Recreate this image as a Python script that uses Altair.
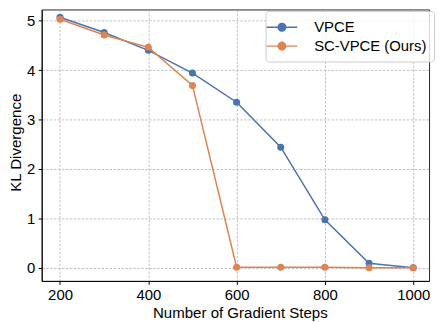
import altair as alt
import pandas as pd

steps = [200, 300, 400, 500, 600, 700, 800, 900, 1000]
vpce = [5.07, 4.76, 4.40, 3.94, 3.35, 2.44, 0.97, 0.09, 0.0]
sc_vpce = [5.03, 4.71, 4.46, 3.69, 0.01, 0.01, 0.012, 0.0, 0.0]
series_names = ["VPCE", "SC-VPCE (Ours)"]
series_colors = ["#4C72B0", "#DD8452"]
x_ticks = [200, 400, 600, 800, 1000]
y_ticks = [0, 1, 2, 3, 4, 5]

rows = []
for s, vals in zip(series_names, [vpce, sc_vpce]):
    for x, v in zip(steps, vals):
        rows.append({"steps": x, "kl": v, "method": s})
df = pd.DataFrame(rows)

FONT = "Liberation Sans"

x_enc = alt.X("steps:Q", scale=alt.Scale(domain=[158.5, 1035.9], nice=False, zero=False),
              axis=alt.Axis(values=x_ticks, title="Number of Gradient Steps", format="d",
                            titleX=200))
y_enc = alt.Y("kl:Q", scale=alt.Scale(domain=[-0.267, 5.227], nice=False, zero=False),
              axis=alt.Axis(values=y_ticks, title="KL Divergence", format="d",
                            titleY=134))
color_enc = alt.Color(
    "method:N",
    scale=alt.Scale(domain=series_names, range=series_colors),
    sort=series_names,
    legend=alt.Legend(
        title=None,
        orient="none",
        legendX=226,
        legendY=1.5,
        symbolType="M-1.82,0H1.82M-0.45,0A0.45,0.45 0 1,0 0.45,0A0.45,0.45 0 1,0 -0.45,0Z",
        symbolSize=289,
        symbolStrokeWidth=1.5,
        symbolOpacity=1,
        labelFontSize=15,
        labelFont=FONT,
        labelColor="#000000",
        labelOffset=23,
        fillColor="rgba(255,255,255,0.8)",
        strokeColor="#cccccc",
        cornerRadius=3,
        padding=7,
        rowPadding=1,
    ),
)

layers = []
for s in series_names:
    base = alt.Chart(df).transform_filter(alt.datum.method == s)
    layers.append(base.mark_line(strokeWidth=1.5).encode(x=x_enc, y=y_enc, color=color_enc))
    layers.append(base.mark_point(filled=True, size=50, opacity=1).encode(x=x_enc, y=y_enc, color=color_enc))

chart = alt.layer(*layers).properties(
    width=391, height=274,
    padding={"left": 0, "top": 0, "right": 0, "bottom": 0},
).configure_view(
    stroke="#262626", strokeWidth=1
).configure_axis(
    labelFont=FONT, titleFont=FONT, labelFontSize=15, titleFontSize=15.2,
    labelColor="#000000", titleColor="#000000", titleFontWeight="normal",
    domainColor="#000000", domainWidth=1, tickColor="#000000", tickSize=3.5, tickWidth=1,
    labelPadding=3.5, titlePadding=3,
    gridColor="#b0b0b0", gridDash=[2.5, 1.5], gridWidth=0.8,
)

chart.save("out.html", embed_options={"renderer": "svg", "actions": False})
